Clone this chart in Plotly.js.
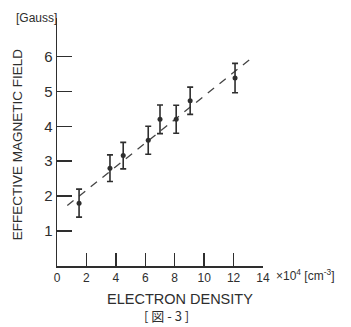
<!DOCTYPE html>
<html><head><meta charset="utf-8">
<script src="https://cdn.plot.ly/plotly-3.0.1.min.js"></script>
<style>html,body{margin:0;padding:0;background:#fff;}#chart{width:351px;height:327px;}</style>
</head><body><div id="chart"></div>
<script>
const density = [1.5, 3.6, 4.5, 6.2, 7.0, 8.1, 9.05, 12.1];
const field = [1.80, 2.80, 3.16, 3.60, 4.20, 4.20, 4.73, 5.38];
const fieldErr = [0.40, 0.38, 0.38, 0.40, 0.41, 0.40, 0.39, 0.42];
const fitX = [0.7, 13.3];
const fitY = [1.73, 5.98];
const xTicks = [0, 2, 4, 6, 8, 10, 12, 14];
const yTicks = [1, 2, 3, 4, 5, 6];

const ink = '#2e2e2e';
const font = 'Liberation Sans, Arial, sans-serif';

const traces = [
  {x: fitX, y: fitY, mode: 'lines', line: {color: '#444', width: 1.3, dash: '8px,7px'}, hoverinfo: 'skip'},
  {x: density, y: field, mode: 'markers',
   marker: {color: ink, size: 5},
   error_y: {type: 'data', array: fieldErr, visible: true, color: ink, thickness: 1.6, width: 3}}
];

const layout = {
  width: 351, height: 327,
  margin: {l: 57, r: 88, t: 18, b: 61},
  paper_bgcolor: '#fff', plot_bgcolor: '#fff',
  showlegend: false,
  font: {family: font, color: ink},
  xaxis: {range: [0, 14], tickvals: xTicks, ticktext: xTicks.map(String),
    ticks: 'inside', ticklen: 13, tickwidth: 1.5, tickcolor: ink,
    showline: true, linecolor: ink, linewidth: 1.5, showgrid: false, zeroline: false,
    tickfont: {size: 12, color: ink}, fixedrange: true},
  yaxis: {range: [0, 7.1], tickvals: yTicks, ticktext: yTicks.map(String),
    ticks: 'inside', ticklen: 15, tickwidth: 1.5, tickcolor: ink,
    showline: true, linecolor: ink, linewidth: 1.5, showgrid: false, zeroline: false,
    tickfont: {size: 15, color: ink}, fixedrange: true},
  annotations: [
    {text: 'EFFECTIVE MAGNETIC FIELD', xref: 'paper', yref: 'paper', x: -0.19, y: 0.49,
     xanchor: 'center', yanchor: 'middle', textangle: -90, showarrow: false, font: {size: 13.5, color: ink}},
    {text: '[Gauss]', xref: 'paper', yref: 'paper', x: -0.21, y: 1.0, xanchor: 'left', yanchor: 'middle',
     showarrow: false, font: {size: 12, color: ink}},
    {text: '×10<sup>4</sup> [cm<sup>-3</sup>]', xref: 'paper', yref: 'paper', x: 1.055, y: -0.035,
     xanchor: 'left', yanchor: 'middle', showarrow: false, font: {size: 12, color: ink}},
    {text: 'ELECTRON DENSITY', xref: 'paper', yref: 'paper', x: 0.595, y: -0.135,
     xanchor: 'center', yanchor: 'middle', showarrow: false, font: {size: 14.5, color: ink}},
    {text: '[ 図 - 3 ]', xref: 'paper', yref: 'paper', x: 0.53, y: -0.2,
     xanchor: 'center', yanchor: 'middle', showarrow: false, font: {size: 13, color: ink, family: 'Noto Sans CJK JP, sans-serif'}}
  ]
};
Plotly.newPlot('chart', traces, layout, {displayModeBar: false, staticPlot: true});
</script></body></html>
